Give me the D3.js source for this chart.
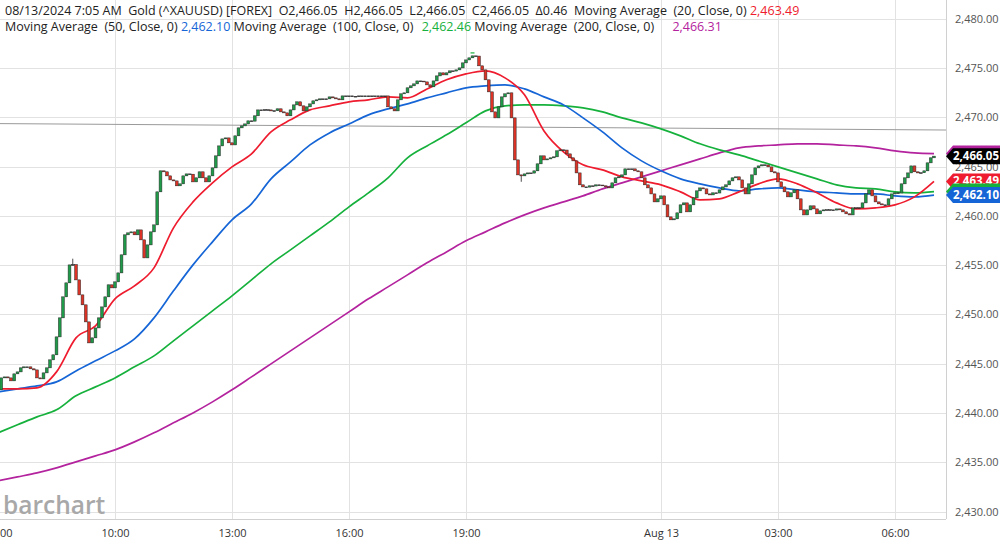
<!DOCTYPE html>
<html>
<head>
<meta charset="utf-8">
<script src="https://cdnjs.cloudflare.com/ajax/libs/d3/7.8.5/d3.min.js"></script>
<style>
body { margin: 0; background: #fff; }
svg { display: block; font-family: "Open Sans", "Noto Sans", sans-serif; }
</style>
</head>
<body>
<script>
var W = 1000, H = 541;
var PLOT_R = 946, PLOT_B = 519;

// 5-minute closes, 07:00 Aug 12 -> 07:00 Aug 13 (one row = one hour)
var closes = [
    2442.35, 2443.56, 2443.66, 2443.56, 2443.26, 2443.97, 2444.17, 2444.58, 2444.68, 2444.68, 2444.48, 2444.37,
    2443.56, 2443.46, 2444.07, 2444.58, 2445.39, 2445.90, 2447.72, 2449.65, 2451.78, 2453.20, 2455.02, 2455.05,
    2453.50, 2451.98, 2450.97, 2449.24, 2447.11, 2447.62, 2448.63, 2449.65, 2450.76, 2451.78, 2453.00, 2452.69,
    2453.30, 2454.21, 2456.04, 2458.07, 2458.27, 2458.37, 2458.07, 2458.57, 2457.56, 2455.73, 2457.05, 2458.37,
    2459.08, 2462.43, 2464.56, 2464.46, 2464.05, 2463.64, 2463.54, 2463.04, 2463.24, 2464.05, 2464.25, 2464.22,
    2463.44, 2463.85, 2464.46, 2463.85, 2463.44, 2464.05, 2464.86, 2466.08, 2467.09, 2467.80, 2467.90, 2467.40,
    2467.19, 2468.11, 2468.92, 2469.12, 2469.32, 2469.63, 2469.60, 2470.14, 2470.74, 2470.72, 2470.76, 2470.74,
    2470.64, 2470.66, 2470.85, 2470.54, 2470.44, 2470.14, 2470.74, 2471.25, 2471.56, 2471.15, 2470.64, 2471.05,
    2471.35, 2471.66, 2471.76, 2471.86, 2471.84, 2471.86, 2472.06, 2471.96, 2471.86, 2471.76, 2472.16, 2472.14,
    2472.16, 2472.12, 2472.11, 2472.16, 2472.14, 2472.16, 2472.11, 2472.16, 2472.14, 2472.16, 2472.12, 2472.16,
    2471.05, 2470.85, 2470.64, 2471.76, 2472.37, 2472.47, 2472.98, 2473.18, 2473.38, 2473.68, 2473.66, 2473.58,
    2473.28, 2473.08, 2473.68, 2474.19, 2474.50, 2474.29, 2474.50, 2474.70, 2474.68, 2474.80, 2475.00, 2475.51,
    2475.81, 2476.02, 2476.22, 2476.20, 2475.21, 2474.80, 2473.79, 2472.57, 2470.54, 2469.93, 2471.05, 2472.06,
    2472.37, 2472.47, 2469.93, 2465.67, 2464.15, 2464.05, 2464.25, 2464.35, 2464.33, 2464.56, 2465.27, 2466.08,
    2465.67, 2465.77, 2465.88, 2465.98, 2466.59, 2466.69, 2466.67, 2466.28, 2465.88, 2465.57, 2464.35, 2463.14,
    2462.93, 2462.91, 2463.04, 2463.02, 2463.14, 2463.12, 2463.04, 2462.93, 2462.83, 2463.34, 2463.85, 2463.95,
    2464.15, 2464.76, 2464.74, 2464.76, 2464.56, 2464.46, 2463.85, 2463.14, 2462.83, 2462.22, 2461.41, 2461.72,
    2462.02, 2461.11, 2459.89, 2459.59, 2459.69, 2460.30, 2461.11, 2461.31, 2460.40, 2461.11, 2461.82, 2462.53,
    2462.83, 2462.73, 2462.22, 2462.12, 2462.33, 2462.31, 2462.63, 2462.93, 2463.14, 2463.54, 2463.85, 2463.95,
    2463.64, 2462.83, 2462.22, 2463.24, 2464.15, 2464.86, 2465.06, 2465.17, 2465.15, 2464.96, 2464.46, 2464.35,
    2463.44, 2462.93, 2462.43, 2461.92, 2462.33, 2462.63, 2461.72, 2460.60, 2460.09, 2460.60, 2461.01, 2460.70,
    2460.20, 2460.50, 2460.60, 2460.62, 2460.60, 2460.58, 2460.70, 2460.60, 2460.40, 2460.20, 2460.09, 2460.80,
    2460.82, 2460.80, 2461.31, 2462.22, 2462.63, 2462.02, 2461.41, 2461.21, 2461.11, 2461.09, 2461.72, 2462.22,
    2462.33, 2462.31, 2463.24, 2463.85, 2464.35, 2465.06, 2464.46, 2464.35, 2464.37, 2464.56, 2465.37, 2465.88,
    2466.05
];
var firstOpen = 2442.10;
// [bar, high, low] for the few bars with a visible wick
var wicks = [[23, 2455.65, 2455.00], [161, 2464.15, 2463.45], [0, 2442.40, 2441.90]];
// session high marker
var highMark = { bar: 146, value: 2476.52 };

// moving averages, one value every 30 minutes (every 6th bar)
var ma20 = [2442.45, 2442.45, 2442.55, 2444.17, 2447.62, 2448.84, 2451.58, 2452.89, 2454.72, 2458.78,
    2461.41, 2463.34, 2464.96, 2466.28, 2468.51, 2469.73, 2470.74, 2471.15, 2471.56, 2471.76,
    2472.06, 2471.96, 2472.87, 2473.79, 2474.39, 2474.70, 2473.99, 2472.27, 2468.61, 2466.48,
    2465.17, 2464.66, 2463.95, 2463.54, 2463.14, 2462.43, 2461.62, 2461.72, 2462.43, 2463.24,
    2463.75, 2463.24, 2462.33, 2461.31, 2460.70, 2460.80, 2461.11, 2461.92, 2463.49];
var ma50 = [2442.14, 2442.45, 2442.75, 2443.16, 2444.27, 2445.29, 2446.30, 2447.52, 2449.65, 2452.39,
    2455.02, 2457.36, 2459.59, 2461.21, 2463.75, 2465.47, 2467.19, 2468.41, 2469.32, 2470.24,
    2470.85, 2471.35, 2471.96, 2472.47, 2472.98, 2473.18, 2473.28, 2472.87, 2472.06, 2471.25,
    2469.93, 2468.51, 2466.89, 2465.57, 2464.56, 2463.75, 2463.24, 2462.83, 2462.53, 2462.73,
    2462.83, 2462.63, 2462.43, 2462.33, 2462.22, 2462.22, 2462.02, 2461.92, 2462.10];
var ma100 = [2437.99, 2438.80, 2439.61, 2440.32, 2441.74, 2442.65, 2443.56, 2444.68, 2445.79, 2447.32,
    2448.84, 2450.36, 2451.88, 2453.50, 2455.13, 2456.54, 2457.96, 2459.38, 2460.91, 2462.33,
    2463.85, 2465.88, 2467.09, 2468.21, 2469.43, 2470.64, 2471.15, 2471.25, 2471.25, 2471.15,
    2470.95, 2470.54, 2469.93, 2469.43, 2468.82, 2468.11, 2467.30, 2466.69, 2466.18, 2465.57,
    2464.96, 2464.35, 2463.75, 2463.14, 2462.83, 2462.73, 2462.43, 2462.33, 2462.46];
var ma200 = [2433.12, 2433.52, 2433.93, 2434.44, 2435.04, 2435.65, 2436.26, 2437.07, 2437.99, 2439.00,
    2440.01, 2441.13, 2442.35, 2443.66, 2444.98, 2446.30, 2447.62, 2448.94, 2450.26, 2451.58,
    2452.79, 2454.01, 2455.23, 2456.34, 2457.46, 2458.37, 2459.28, 2460.09, 2460.80, 2461.41,
    2462.02, 2462.73, 2463.34, 2463.95, 2464.56, 2465.17, 2465.77, 2466.38, 2466.89, 2467.09,
    2467.19, 2467.30, 2467.30, 2467.19, 2467.09, 2466.89, 2466.59, 2466.38, 2466.31];
var MA_STEP = 6;

var refLine = [2469.35, 2468.70];

var yTicks = [2430, 2435, 2440, 2445, 2450, 2455, 2460, 2465, 2470, 2475, 2480];
var timeTickBars = [0, 36, 72, 108, 144, 204, 240, 276];
var timeTickLabels = ["07:00", "10:00", "13:00", "16:00", "19:00", "Aug 13", "03:00", "06:00"];

var COL = {
    ma20: "#ee1c2e",
    ma50: "#1565d6",
    ma100: "#16b13c",
    ma200: "#b4239e",
    up: "#1f9a48",
    down: "#dc3326"
};

// legend header, lines of [text, colour, dx]
var header = [
    { y: 15, parts: [
        ["08/13/2024 7:05 AM  Gold (^XAUUSD) [FOREX]  O2,466.05  H2,466.05  L2,466.05  C2,466.05  \u03940.46  Moving Average  (20, Close, 0) ", "#222", 0],
        ["2,463.49", COL.ma20, 0]] },
    { y: 31, parts: [
        ["Moving Average  (50, Close, 0) ", "#222", 0], ["2,462.10", COL.ma50, 0],
        [" Moving Average  (100, Close, 0) ", "#222", 0], ["2,462.46", COL.ma100, 5],
        [" Moving Average  (200, Close, 0) ", "#222", 0], ["2,466.31", COL.ma200, 15]] }
];

// last-value tags on the price axis, drawn in this order
var tags = [
    { value: 2466.31, label: "", fill: COL.ma200 },
    { value: 2466.05, label: "2,466.05", fill: "#000" },
    { value: 2463.49, label: "2,463.49", fill: COL.ma20 },
    { value: 2462.46, label: "", fill: COL.ma100 },
    { value: 2462.10, label: "2,462.10", fill: COL.ma50 }
];

var x = d3.scaleLinear().domain([0, 288]).range([-2, 934]);
var y = d3.scaleLinear().domain([2430, 2480]).range([511.6, 18.6]);

var svg = d3.select("body").append("svg")
    .attr("width", W)
    .attr("height", H);

svg.append("defs").append("clipPath")
    .attr("id", "plot-clip")
    .append("rect")
    .attr("x", 0).attr("y", 0)
    .attr("width", PLOT_R).attr("height", PLOT_B);

// grid
svg.append("g").selectAll("line")
    .data(yTicks).enter()
    .append("line")
    .attr("x1", 0).attr("x2", PLOT_R)
    .attr("y1", function(d) { return Math.round(y(d)) + 0.5; })
    .attr("y2", function(d) { return Math.round(y(d)) + 0.5; })
    .attr("stroke", "#e2e2e2");

svg.append("g").selectAll("line")
    .data(timeTickBars).enter()
    .append("line")
    .attr("x1", function(d) { return Math.round(x(d)) + 0.5; })
    .attr("x2", function(d) { return Math.round(x(d)) + 0.5; })
    .attr("y1", 0).attr("y2", PLOT_B)
    .attr("stroke", "#e2e2e2");

svg.append("line")
    .attr("x1", PLOT_R + 0.5).attr("x2", PLOT_R + 0.5)
    .attr("y1", 0).attr("y2", PLOT_B)
    .attr("stroke", "#d0d0d0");
svg.append("line")
    .attr("x1", 0).attr("x2", PLOT_R)
    .attr("y1", PLOT_B + 0.5).attr("y2", PLOT_B + 0.5)
    .attr("stroke", "#d0d0d0");

// watermark
svg.append("text")
    .attr("x", 3).attr("y", 514)
    .attr("font-size", 24.5)
    .attr("font-weight", 600)
    .attr("fill", "#a8a8a8")
    .text("barchart");

var plot = svg.append("g").attr("clip-path", "url(#plot-clip)");

plot.append("line")
    .attr("x1", 0).attr("x2", PLOT_R)
    .attr("y1", y(refLine[0])).attr("y2", y(refLine[1]))
    .attr("stroke", "#9a9a9a")
    .attr("stroke-width", 1);

// moving averages
function maLine(values, color) {
    var line = d3.line()
        .x(function(d, i) { return x(i * MA_STEP); })
        .y(function(d) { return y(d); })
        .curve(d3.curveMonotoneX);
    plot.append("path")
        .attr("d", line(values))
        .attr("fill", "none")
        .attr("stroke", color)
        .attr("stroke-width", 1.7);
}
maLine(ma200, COL.ma200);
maLine(ma100, COL.ma100);
maLine(ma50, COL.ma50);
maLine(ma20, COL.ma20);

// candles
var bars = closes.map(function(c, i) {
    var o = i == 0 ? firstOpen : closes[i - 1];
    return { i: i, o: o, c: c, h: Math.max(o, c), l: Math.min(o, c) };
});
wicks.forEach(function(w) {
    bars[w[0]].h = Math.max(bars[w[0]].h, w[1]);
    bars[w[0]].l = Math.min(bars[w[0]].l, w[2]);
});

var candle = plot.append("g").selectAll("g")
    .data(bars).enter()
    .append("g");

candle.append("line")
    .attr("x1", function(d) { return x(d.i); })
    .attr("x2", function(d) { return x(d.i); })
    .attr("y1", function(d) { return y(d.h); })
    .attr("y2", function(d) { return y(d.l); })
    .attr("stroke", "#222")
    .attr("stroke-width", 0.8);

candle.append("rect")
    .attr("x", function(d) { return x(d.i) - 1.4; })
    .attr("width", 2.8)
    .attr("y", function(d) { return y(Math.max(d.o, d.c)); })
    .attr("height", function(d) { return Math.max(0.8, y(Math.min(d.o, d.c)) - y(Math.max(d.o, d.c))); })
    .attr("fill", function(d) {
        if (Math.abs(d.c - d.o) < 0.06) return "#222";
        return d.c > d.o ? COL.up : COL.down;
    })
    .attr("stroke", "#2a2a2a")
    .attr("stroke-width", 0.5);

plot.append("line")
    .attr("x1", x(highMark.bar) - 2).attr("x2", x(highMark.bar) + 2)
    .attr("y1", y(highMark.value)).attr("y2", y(highMark.value))
    .attr("stroke", COL.ma100)
    .attr("stroke-width", 1.2);

// price axis
var yAxis = d3.axisRight(y)
    .tickValues(yTicks)
    .tickSize(0)
    .tickPadding(9)
    .tickFormat(d3.format(",.2f"));
var yg = svg.append("g")
    .attr("transform", "translate(" + PLOT_R + ",0)")
    .call(yAxis);
yg.select(".domain").remove();
yg.selectAll("text")
    .attr("font-family", "Open Sans, sans-serif")
    .attr("font-size", 11)
    .attr("fill", "#555");

// time axis
var xAxis = d3.axisBottom(x)
    .tickValues(timeTickBars)
    .tickSize(0)
    .tickPadding(10)
    .tickFormat(function(d, i) { return timeTickLabels[i]; });
var xg = svg.append("g")
    .attr("transform", "translate(0," + PLOT_B + ")")
    .call(xAxis);
xg.select(".domain").remove();
xg.selectAll("text")
    .attr("font-family", "Open Sans, sans-serif")
    .attr("font-size", 11)
    .attr("fill", "#333");

// value tags
var tag = svg.append("g").selectAll("g")
    .data(tags).enter()
    .append("g")
    .attr("transform", function(d) { return "translate(" + PLOT_R + "," + y(d.value) + ")"; });
tag.append("path")
    .attr("d", "M0,0 L7,-8 L54,-8 L54,8 L7,8 Z")
    .attr("fill", function(d) { return d.fill; });
tag.filter(function(d) { return d.label; })
    .append("text")
    .attr("x", 30).attr("y", 4)
    .attr("text-anchor", "middle")
    .attr("font-size", 11.5)
    .attr("font-weight", 700)
    .attr("fill", "#fff")
    .text(function(d) { return d.label; });

// legend header
header.forEach(function(g) {
    var t = svg.append("text")
        .attr("x", 5).attr("y", g.y)
        .attr("font-size", 12.5)
        .style("white-space", "pre");
    g.parts.forEach(function(p) {
        t.append("tspan")
            .attr("dx", p[2])
            .attr("fill", p[1])
            .text(p[0]);
    });
});
</script>
</body>
</html>
